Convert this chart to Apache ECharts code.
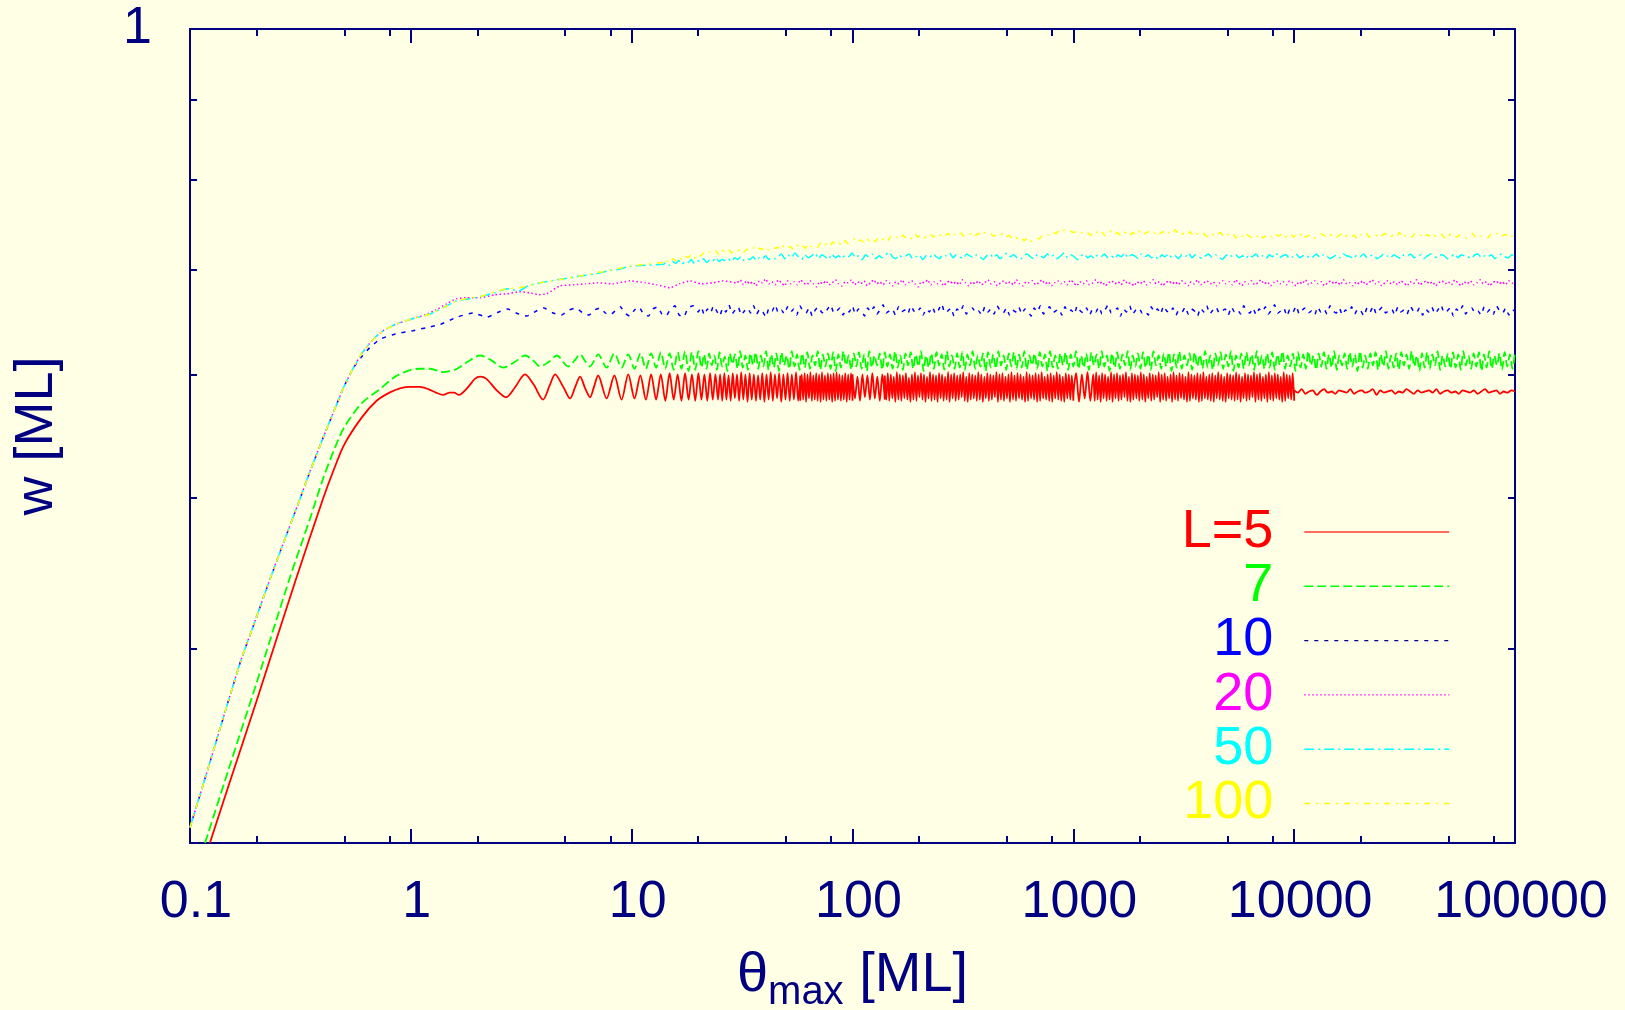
<!DOCTYPE html>
<html>
<head>
<meta charset="utf-8">
<title>w versus theta_max</title>
<script src="https://cdn.jsdelivr.net/npm/echarts@6/dist/echarts.min.js"></script>
<style>
  html, body { margin: 0; padding: 0; background: #ffffe5; }
  #chart { width: 1625px; height: 1010px; }
</style>
</head>
<body>
<div id="chart"></div>
<script>
// ---- axes -------------------------------------------------------------
const xRange = [0.1, 100000];
const wRange = [0.3, 1];
const xMajorTicks = [0.1, 1, 10, 100, 1000, 10000, 100000];
const xTickLabels = ['0.1', '1', '10', '100', '1000', '10000', '100000'];
const xMinorTicks = [0.2, 0.5, 0.8, 2, 5, 8, 20, 50, 80, 200, 500, 800,
  2000, 5000, 8000, 20000, 50000, 80000];
const wLabelTicks = [1];
const wTickLabels = ['1'];
const wMinorTicks = [0.4, 0.5, 0.6, 0.7, 0.8, 0.9];

// ---- legend -----------------------------------------------------------
const seriesNames = ['L=5', '7', '10', '20', '50', '100'];

// ---- data: w values are given in units of 0.001 ML ----------------------
// explicit [theta, w] points
const redRise = [[0.123,300],[0.15,327],[0.2,370],[0.3,442],[0.4,499],[0.45,522],[0.5,541],
  [0.6,563],[0.7,577],[0.8,584],[0.9,588],[1.0,589],[1.1,589],[1.2,587],[1.3,584],[1.4,582],
  [1.5,584],[1.57,584],[1.65,582],[1.8,588],[1.95,596],[2.06,598],[2.2,596],[2.45,586],
  [2.7,580],[2.95,588],[3.29,600],[3.6,591],[3.97,578],[4.25,590],[4.5,600],[4.9,589],
  [5.26,579],[5.55,589],[5.84,598],[6.15,588],[6.48,580],[6.75,589]];
const redOsc = [[7.05,599],[7.7,579],[8.35,599],[9.0,578],[9.65,600],[10.3,579],[10.95,599],
  [11.6,578],[12.25,600],[12.9,578],[13.55,600],[14.2,577],[14.85,601],[15.5,578],[16.15,600],
  [16.8,577],[17.45,601],[18.1,578],[18.75,600],[19.4,577],[20.05,601],[20.7,578],[21.35,600],
  [22.0,577],[22.65,601],[23.3,578],[23.95,600]];
// evenly spaced (in log theta) samples between the two bounds
const redBand1 = [24.6, 58, [578,600,577,601,578,599,577,601,579,600,577,602,578,600,576,601,578,600,577,599,
  578,601,576,600,578,602,577,600,579,601,576,600,578,601,577,600,578,602,577,599]];
const redBand2 = [58, 100, [577,600,578,601,576,600,579,602,577,599,578,601,577,600,576,602,578,599,577,601,
  578,600,576,601,577,602,578,600,577,599,578,601,576,600,578,601,577]];
const redBand3 = [100, 140, [600,579,598,577,600,580,599,578,601,579,598,577,600,578]];
const redBand4 = [140, 1000, [599,578,601,577,600,579,598,576,602,578,600,577,599,579,601,578,597,576,600,578,
  602,577,599,580,601,578,600,576,598,579,602,577,600,578,599,576,601,579,600,577,598,578,602,576,600,579,
  601,577,599,578,600,580,602,577,598,576,601,578,600,579,599,577,602,578,600,576,598,579,601,577,600,578,
  599,580,602,576,600,578,601,577,598,579,600,576,602,578,599,577,601,579,600,578,598,576,602,577,600,579,
  599,578,601,576,600,577,602,579,598,578,600,577,601,576,599,579,602,578,600,577,598,576,601,579,600,578,
  599,577]];
const redBand5 = [1000, 1230, [578,601,576,600,579,602,577,600]];
const redBand6 = [1230, 10000, [600,577,602,578,599,576,601,579,600,577,598,578,602,576,600,579,601,577,599,578,
  600,580,602,577,598,576,601,578,600,579,599,577,602,578,600,576,598,579,601,577,600,578,599,580,602,576,
  600,578,601,577,598,579,600,576,602,578,599,577,601,579,600,578,598,576,602,577,600,579,599,578,601,576,
  600,577,602,579,598,578,600,577,601,576,599,579,602,578,600,577,598,576,601,579,600,578,599,577,602,578,
  600,576,598,579,601,577,600,578,599,580,602,576,600,578,601,577,598,579,600,576,602,578,599,577,601,579,
  600,578,598,576,602,577,600,579,599,578,601,577]];
const redTail = [10000, 100000, [586,584,587,583,585,586,582,585,587,584,585,583,586,585,584,587,583,585,586,584,
  585,587,582,586,584,585,586,583,585,584,587,585,583,586,584,585,586,584,587,583,585,586,584,585,583,586,
  585,584,586,583,585,587,584,585,586,583,585,584,586,585]];

const greenRise = [[0.117,300],[0.15,335],[0.2,380],[0.2816,443],[0.35,485],[0.4,514],[0.45,537],
  [0.5,555],[0.6,575],[0.724,587],[0.85,598],[1.0,604],[1.1,605],[1.22,605],[1.4,602],[1.5,603],
  [1.62,605],[1.8,611],[2.06,617],[2.3,613],[2.62,606],[2.95,611],[3.29,617],[3.6,612],[3.85,607],
  [4.2,611],[4.6,617],[4.9,611],[5.15,607],[5.5,612],[5.84,618],[6.15,612],[6.48,607],[6.75,612]];
const greenOsc = [[7.05,618],[7.7,606],[8.35,619],[9.0,606],[9.65,618],[10.3,605],[10.95,619],
  [11.6,605],[12.25,619],[12.9,606],[13.55,620],[14.2,605],[14.85,619],[15.5,604],[16.15,620],
  [16.8,605],[17.45,621],[18.1,603],[18.75,620],[19.4,604],[20.05,621]];
const greenBand = [20.7, 100000, [606,618,605,619,608,617,604,620,607,616,603,619,609,618,605,621,606,617,604,619,
  608,620,605,617,607,621,604,618,606,619,603,620,608,617,605,621,607,618,604,619,606,620,605,617,608,621,
  604,618,607,619,605,620,603,618,606,621,608,617,604,619,607,620,605,618,603,621,606,617,608,619,604,620,
  607,618,605,621,606,617,604,619,608,620,605,618,607,621,603,617,606,619,605,620,608,618,604,621,607,617,
  605,619,606,620,604,618,608,621,605,617,607,619,603,620,606,618,605,621,608,617,604,619,607,620,605,618,
  606,621,604,617,608,619,605,620,607,618,603,621,606,617,605,619,608,620,604,618,607,621,605,617,606,619,
  604,620,608,618,605,621,607,617,603,619,606,620,605,618,608,621,604,617,607,619,605,620,606,618,604,621,
  608,617,605,619,607,620,603,618,606,621,605,617,608,619,604,620,607,618,605,621,606,617,604,619,608,620,
  605,618,607,621,603,617,606,619,605,620,608,618,604,621,607,617,605,619,606,620,604,618,608,621,605,617,
  607,619,603,620,606,618,605,621,608,617,604,619,607,620,605,618,606,621,604,617,608,619,605,620,607,618,
  603,621,606,617,605,619,608,620,604,618,607,621,605,617,606,619,604,620,608,618,605,621,607,617,603,619,
  606,620,605,618,608,621,604,617,607,619,605,620,606,618,604,621,608,617,605,619,607,620,603,618,606,621,
  605,617,608,619,604,620,607,618,605,621]];

// L >= 10 share the same initial rise
const upperRise = [[0.1,307],[0.12,334],[0.144,364],[0.17,393],[0.2,419],[0.23,443],[0.27,471],
  [0.3,490],[0.35,520],[0.4,546],[0.45,569],[0.5,590],[0.55,606]];
const upperKnee = [[0.6,619],[0.65,628],[0.7,635],[0.75,640],[0.85,646],[1.0,651]];

const blueKnee = [[0.6,616],[0.65,624],[0.725,632],[0.85,637],[1.02,640],[1.18,643],[1.36,646],
  [1.62,653],[1.91,657],[2.22,653],[2.5,658],[2.74,661],[3.0,657],[3.35,654],[3.7,659],[4.0,662],
  [4.4,657],[4.8,655],[5.2,660],[5.6,662],[6.0,657],[6.4,655],[6.8,660],[7.2,662],[7.6,657],
  [8.0,655],[8.5,660],[8.9,663],[9.3,657],[9.8,654],[10.3,660],[10.8,663],[11.3,656],[11.9,654],
  [12.5,661],[13.1,663],[13.7,656],[14.3,654],[15.0,661],[15.7,664],[16.4,655],[17.2,653],
  [18.0,662],[19.0,664]];
const blueBand = [20, 100000, [658,663,655,661,657,664,659,654,662,658,665,656,660,663,655,659,662,657,664,656,
  661,658,653,662,659,665,657,660,656,663,658,661,655,664,659,657,662,654,660,663,658,656,661,665,657,659,
  662,655,660,658,664,656,661,659,654,662,658,663,656,660,665,657,659,661,655,663,658,660,656,664,659,657,
  662,655,661,658,663,656,660,666,657,659,662,654,661,658,664,656,660,662,657,659,655,663,658,661,656,664,
  659,657,662,655,660,658,663,656,661,659,654,662,658,664,656,660,663,657,659,661,655,663,658,660,656,664,
  659,657,662,655,661,658,663,656,660,665,657,659,662,654,661,658,664,656,660,662,657,659,655,663,658,661,
  656,664,659,657,662,655,660,658,663,656,661,659,654,662,658,664,656,660,663,657,659,661,655,663,658,660,
  656,664,659,657,662,655,661,658,663,656,660,665,657,659,662,654,661,658,664,656,660,662,657,659,655,663,
  658,661,656,664,659,657,662,655,660,658,663,656,661,659,654,662,658,664,656,660,663,657,659,661,655,663,
  658,660,656,664,659,657,662,655,661,658,663,656,660,665,657,659,662,654,661,658,664,656,660,662,657,659,
  655,663,658,661,656,664,659,657,662,655,660,659]];

const magentaMid = [[1.15,655],[1.3,660],[1.45,666],[1.61,671],[1.8,672],[2.06,672],[2.4,675],
  [2.73,676],[3.1,678],[3.45,677],[3.8,675],[4.13,676],[4.73,684],[5.5,685],[6.2,686],[6.97,687],
  [8.2,686],[9.83,689],[11.5,687],[13,685],[14.9,682],[16.5,686],[18.4,689],[20.5,686],[23.4,687],
  [26,689]];
const magentaBand = [30, 100000, [687,690,685,689,686,688,684,689,687,691,686,688,685,690,687,684,689,686,688,685,
  690,687,685,689,686,683,688,686,689,685,687,690,686,684,688,687,690,685,688,686,689,684,687,690,686,688,
  685,689,687,684,688,686,690,685,687,689,686,683,688,687,690,685,688,686,689,684,687,689,686,688,685,690,
  687,684,688,686,689,685,687,690,686,688,684,687,689,686,688,685,690,686,684,688,687,689,685,687,690,686,
  688,684,687,689,686,688,685,690,687,684,688,686,689,685,687,690,686,688,684,687,689,686,688,685,690,686,
  687,684,688,686,689,685,687,690,686,688,684,687,689,686,688,685,689,687,684,688,686,690,685,687,689,686,
  688,684,687,689,686,688,685,690,687,684,688,686,689,685,687,690,686,688,684,687,689,686,688,685,689,687,
  684,688,686,690,685,687,689,686,688,684,687,689,686,688,685,690,686,687,684,688,686,689,685,687,690,686,
  688,684,687,689,686,688,685,689,687,684,688,686,690,685,687,689,686,688,684,687,689,686,688,685,690,687,
  684,688,686,689,685,687,690,686,688,684,687,689,686,688,685,689,687,686]];

const cyanMid = [[1.22,656],[1.4,662],[1.61,669],[1.85,671],[2.06,673],[2.4,677],[2.72,681],
  [3.1,679],[3.4,684],[3.85,687],[4.3,689],[4.89,691],[5.84,694],[6.8,696],[7.74,699],[8.8,701],
  [9.83,704],[11.5,705]];
const cyanBand1 = [13.9, 46, [706,708,705,709,707,710,706,709,708,711,707,710,709,712,708,711,710,713,709,711,
  710,712,709,713,711,714,710,712,711,714,710,713,712,715,711,713,712,714]];
const cyanBand2 = [46, 100000, [714,717,712,716,713,718,714,711,716,713,715,718,712,716,714,711,717,713,715,712,
  716,714,718,713,715,711,716,714,717,712,715,713,716,719,714,712,716,713,715,717,712,714,716,711,715,713,
  717,714,712,716,715,718,713,716,714,712,717,715,713,716,714,711,715,717,713,716,712,715,718,714,716,713,
  711,715,717,714,712,716,715,713,717,714,716,712,715,718,713,716,714,711,715,717,713,715,712,716,714,717,
  713,715,712,716,714,718,713,716,715,712,717,714,716,713,715,711,716,714,717,713,715,712,716,714,718,713,
  716,714,712,715,717,713,716,714,711,715,717,714,716,713,715,712,716,714,717,713,715,712,716,714,718,713,
  715,716,712,714,717,713,715,716,712,714,717,713,716,715,712,714,716,713,717,715,714,712,716,714,717,713,
  715,716,712,714,717,715,713,716,714,712,716,715,717,713,714,716,712,715,717,714,713,716,715,712,714,717,
  713,716,715,714,712,716,717,713,715,714,716,712,715,717,714,713,716,715]];

const yellowMid = [[1.22,656],[1.4,662],[1.61,669],[1.85,672],[2.06,673],[2.4,678],[2.72,681],
  [3.1,682],[3.4,684],[3.85,687],[4.3,689],[4.89,691],[5.84,694],[6.8,697],[7.74,699],[8.8,702],
  [9.83,704],[11.5,706]];
const yellowBand1 = [13.9, 46, [708,711,707,712,710,714,711,715,713,716,712,717,715,718,716,719,717,720,716,721,
  719,722,718,721,720,723,719,722,721,724,720,723,722,725,721,724,723,724]];
const yellowBand2 = [46, 218, [724,721,726,723,725,722,727,724,726,723,728,725,727,724,729,726,728,725,730,727,
  729,726,731,728,730,733,729,732,730,734,731,733,730,735,732,734,731,736,733,735,732,737,734,736,733,738,
  735,737,734,736]];
const yellowBand3 = [218, 658, [736,739,735,738,736,740,737,739,735,738,737,740,736,739,738,741,737,739,736,740,
  738,739,736,738,737,739,735,737,734,736,733,735,731,734,730,732]];
const yellowBand4 = [658, 1230, [732,734,733,736,735,738,737,740,739,742,740,743,741,742,740,741,739,740,738,740,
  737,739]];
const yellowBand5 = [1230, 100000, [738,741,737,740,736,739,742,738,740,737,741,739,736,740,738,742,737,739,741,738,
  740,736,739,741,737,740,738,743,739,737,740,738,741,736,739,738,740,737,735,739,736,738,740,735,738,737,
  739,734,738,736,740,737,735,738,736,739,734,737,738,735,739,736,738,734,737,739,735,738,736,740,735,737,
  738,734,736,739,737,735,738,736,734,737,739,735,738,736,737,733,738,736,739,735,737,738,734,736,739,737,
  735,738,736,740,734,737,738,735,739,736,737,734,738,736,739,735,737,738,733,736,739,737,735,738,736,734,
  737,739,735,738,736,737,734,738,736,739,735,737,738,734,736,737]];

// ---- helpers ----------------------------------------------------------
function pairs(list) {
  return list.map(function (p) { return [p[0], p[1] / 1000]; });
}
function along(band) {
  const a = Math.log10(band[0]), b = Math.log10(band[1]), ws = band[2], n = ws.length;
  return ws.map(function (w, i) {
    return [Math.pow(10, a + (b - a) * i / (n - 1)), w / 1000];
  });
}

const curves = [
  [].concat(pairs(redRise), pairs(redOsc), along(redBand1), along(redBand2), along(redBand3),
    along(redBand4), along(redBand5), along(redBand6), along(redTail)),
  [].concat(pairs(greenRise), pairs(greenOsc), along(greenBand)),
  [].concat(pairs(upperRise), pairs(blueKnee), along(blueBand)),
  [].concat(pairs(upperRise), pairs(upperKnee), pairs(magentaMid), along(magentaBand)),
  [].concat(pairs(upperRise), pairs(upperKnee), pairs(cyanMid), along(cyanBand1), along(cyanBand2)),
  [].concat(pairs(upperRise), pairs(upperKnee), pairs(yellowMid), along(yellowBand1), along(yellowBand2),
    along(yellowBand3), along(yellowBand4), along(yellowBand5))
];

// ---- styling ----------------------------------------------------------
const FONT = "'Liberation Sans', Arial, Helvetica, sans-serif";
const NAVY = '#000080';
const lineColors = ['#ff0000', '#00ff00', '#0000ff', '#ff00ff', '#00ffff', '#ffff00'];
const keyColors = ['#ff3b30', '#00ff00', '#000090', '#ff00ff', '#00ffff', '#ffff00'];
const lineDashes = ['solid', [9, 4], [4, 6], [1.5, 2.5], [10, 4, 2, 4], [6, 6, 2, 6]];
const lineWidths = [1.8, 1.8, 1.5, 1.5, 1.5, 1.5];
const smoothness = [0.3, 0.3, 0.15, 0.15, 0.15, 0.15];

function labelOf(values, labels) {
  return function (v) {
    for (let i = 0; i < values.length; i++) {
      if (Math.abs(Math.log10(values[i] / v)) < 1e-6) return labels[i];
    }
    return '';
  };
}

function xAxisDef(position, ticks, len, withLabels) {
  return {
    type: 'log', logBase: 10, position: position, gridIndex: 0,
    min: xRange[0], max: xRange[1],
    axisLine: { show: false },
    splitLine: { show: false },
    axisTick: { show: true, inside: true, length: len, customValues: ticks,
      lineStyle: { color: NAVY, width: 2 } },
    axisLabel: withLabels ? {
      show: true, customValues: xMajorTicks, formatter: labelOf(xMajorTicks, xTickLabels),
      color: NAVY, fontSize: 52, fontFamily: FONT, margin: 34, padding: [0, 0, 0, 12]
    } : { show: false },
    name: withLabels ? '{t|θ}{s|max}{t| [ML]}' : '',
    nameLocation: 'middle', nameGap: 104,
    nameTextStyle: {
      color: NAVY, fontFamily: FONT,
      rich: {
        t: { fontSize: 56, lineHeight: 58, color: NAVY, fontFamily: FONT },
        s: { fontSize: 40, lineHeight: 40, padding: [34, 0, 0, 0], color: NAVY, fontFamily: FONT }
      }
    }
  };
}
function yAxisDef(position, withLabels) {
  return {
    type: 'log', logBase: 10, position: position, gridIndex: 0,
    min: wRange[0], max: wRange[1],
    axisLine: { show: false },
    splitLine: { show: false },
    axisTick: { show: true, inside: true, length: 7, customValues: wMinorTicks,
      lineStyle: { color: NAVY, width: 2 } },
    axisLabel: withLabels ? {
      show: true, customValues: wLabelTicks, formatter: labelOf(wLabelTicks, wTickLabels),
      color: NAVY, fontSize: 52, fontFamily: FONT, margin: 38, padding: [10, 0, 0, 0]
    } : { show: false },
    name: withLabels ? 'w [ML]' : '',
    nameLocation: 'middle', nameRotate: 90, nameGap: 126,
    nameTextStyle: { color: NAVY, fontSize: 54, fontFamily: FONT }
  };
}

const chart = echarts.init(document.getElementById('chart'), null, { renderer: 'canvas' });
chart.setOption({
  animation: false,
  backgroundColor: '#ffffe5',
  grid: {
    left: 190, top: 29, width: 1325, height: 814,
    show: true, borderColor: NAVY, borderWidth: 2, backgroundColor: 'transparent',
    containLabel: false, outerBoundsMode: 'none'
  },
  xAxis: [
    xAxisDef('bottom', xMajorTicks, 14, true),
    xAxisDef('bottom', xMinorTicks, 7, false),
    xAxisDef('top', xMajorTicks, 14, false),
    xAxisDef('top', xMinorTicks, 7, false)
  ],
  yAxis: [
    yAxisDef('left', true),
    yAxisDef('right', false)
  ],
  legend: {
    orient: 'vertical', right: 175, top: 505, padding: 0, align: 'right',
    itemWidth: 145, itemHeight: 4, itemGap: 0.3, selectedMode: false,
    itemStyle: { opacity: 0 },
    textStyle: { fontSize: 54, lineHeight: 50, fontFamily: FONT, padding: [0, 26, 0, 0] },
    data: seriesNames.map(function (n, i) {
      return {
        name: n, textStyle: { color: lineColors[i] },
        itemStyle: { opacity: 0 },
        lineStyle: { color: keyColors[i], width: 1.4, type: lineDashes[i] }
      };
    })
  },
  series: seriesNames.map(function (n, i) {
    return {
      name: n, type: 'line', xAxisIndex: 0, yAxisIndex: 0,
      data: curves[i], showSymbol: false, symbol: 'none', smooth: smoothness[i],
      clip: true, z: 2 + i,
      lineStyle: { color: lineColors[i], width: lineWidths[i], type: lineDashes[i] },
      itemStyle: { color: lineColors[i] },
      emphasis: { disabled: true }
    };
  })
});
</script>
</body>
</html>
